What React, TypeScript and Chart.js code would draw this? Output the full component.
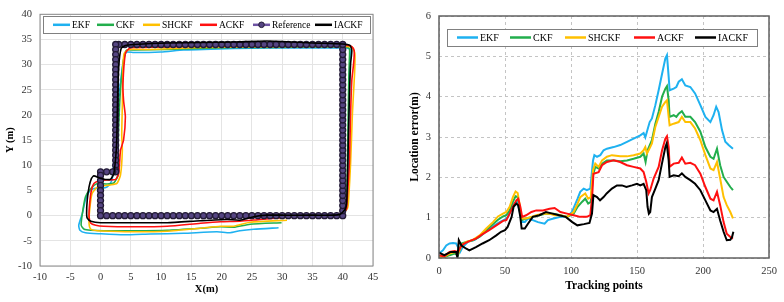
import React, { useEffect, useRef } from "react";
import { Chart, registerables } from "chart.js";
Chart.register(...registerables);

const FONT = "'Liberation Serif', 'Times New Roman', serif";

// ---------- Left panel: trajectories (X(m), Y(m)) ----------
const ekfX = [30, 35, 39.5, 40.6, 40.8, 40.9, 41, 41.1, 41.2, 41.2, 40.6, 37, 33, 28, 22, 17, 13.7, 9.9, 5.5, 4.4, 4.0, 3.6, 3.0, 2.7, 2.4, 2.2, 1.9, 1.1, 0, -1.1, -1.9, -2.5, -3.0, -3.6, -3.4, -2.5, 0, 3.8, 8.2, 13.7, 19.2, 21.4, 23, 25.3, 29.4];
const ekfY = [0.1, 0.1, 0.2, 1.2, 5, 12, 20, 27, 31, 33.0, 33.3, 33.3, 33.3, 33.3, 33.2, 33.0, 32.9, 32.5, 32.4, 32.5, 31.9, 29.5, 22.9, 16, 12, 11, 7.1, 5.7, 5.4, 5.4, 4.7, 3.1, 0.45, -1.9, -2.9, -3.4, -3.6, -3.8, -3.65, -3.5, -3.2, -3.4, -3.0, -2.7, -2.4];

const ckfX = [30, 35, 39.5, 40.5, 40.7, 40.8, 40.9, 41, 41.1, 41.1, 40.5, 35, 28, 22, 16, 11, 5.5, 4.3, 3.8, 3.3, 3.0, 2.9, 2.9, 2.2, 1.1, -0.5, -1.6, -2.5, -3.0, -3.2, -2.7, -1.6, 0.5, 5.5, 11, 16.5, 19.8, 22, 24.7, 29.9];
const ckfY = [0.1, 0.1, 0.2, 1.2, 5, 12, 20, 27, 31, 33.2, 33.5, 33.5, 33.4, 33.4, 33.2, 33.0, 32.9, 32.9, 30.9, 25, 18, 13, 8.1, 6.5, 6.3, 6.4, 5.4, 3.7, 0.45, -1.9, -2.7, -2.9, -3.0, -3.0, -2.9, -2.5, -2.2, -2.3, -1.7, -1.4];

const shckfX = [30, 35, 39.5, 40.8, 41, 41.3, 41.6, 41.9, 42.0, 42.0, 41.5, 40, 33, 25, 16.5, 8.2, 4.7, 3.9, 3.7, 3.6, 3.5, 3.6, 3.3, 2.7, 1.6, 0.3, -0.5, -1.4, -1.8, -1.9, -1.6, -0.5, 1.6, 5.5, 11, 16.5, 19.8, 22, 24.7, 30.8];
const shckfY = [0.1, 0.1, 0.2, 1.5, 3.7, 10.4, 20.3, 26.9, 29.6, 32.2, 33.5, 33.6, 33.6, 33.5, 33.4, 33.0, 33.0, 32.2, 29.5, 22, 16, 13, 8.1, 6.4, 6.1, 5.9, 5.7, 4.4, 1.1, -1.5, -2.7, -3.0, -3.1, -3.2, -3.1, -2.5, -2.1, -2.1, -1.3, -0.9];

const ackfX = [30, 35, 39.5, 40.6, 40.7, 41.1, 41.3, 41.5, 41.8, 41.9, 41.5, 40.9, 35, 27, 20, 11, 5.5, 4.7, 4.1, 3.7, 3.8, 4.1, 3.8, 3.3, 3.0, 2.5, 1.1, -0.3, -1.1, -1.5, -1.8, -1.9, -1.6, -0.8, 0.5, 5.5, 11, 16.5, 19.8, 23, 26.4, 30.2];
const ackfY = [0.1, 0.1, 0.2, 1.2, 2.4, 10.4, 20.3, 26.9, 30.2, 32.8, 33.6, 33.8, 33.8, 33.8, 33.8, 33.5, 33.4, 33.2, 32.2, 26.2, 22.9, 19.6, 15, 13, 8.4, 7.2, 7.1, 6.9, 6.4, 5.1, 2.4, -0.2, -1.5, -1.9, -2.1, -2.2, -2.1, -1.5, -1.2, -1.1, -0.75, -0.4];

const iackfX = [30, 35, 39.5, 40.5, 40.7, 40.9, 41.1, 41.3, 41.5, 41.2, 40, 35, 27.5, 22, 11, 5.5, 4.1, 3.4, 3.0, 2.8, 2.7, 2.6, 2.2, 1.6, 0, -1.1, -1.5, -1.9, -2.2, -2.3, -2.2, -1.6, 0, 5.5, 11, 16.5, 20.9, 23, 25.3, 27.5, 30.2];
const iackfY = [0.1, 0.1, 0.2, 1.5, 3.7, 13.7, 23.6, 30.2, 32.8, 33.8, 34.1, 34.3, 34.7, 34.5, 34.3, 34.0, 33.8, 33.2, 29.5, 22, 16, 13, 8.4, 7.2, 7.4, 7.9, 7.4, 5.7, 3.1, 0.45, -0.5, -1.1, -1.4, -1.4, -1.4, -1.0, -0.75, -0.9, -0.2, 0.1, 0.1];

const refX = [
  30, 31, 32, 33, 34, 35, 36, 37, 38, 39, 40,
  40, 40, 40, 40, 40, 40, 40, 40, 40, 40, 40, 40, 40, 40, 40, 40, 40,
  40, 40, 40, 40, 40, 40, 40, 40, 40, 40, 40, 40, 40, 40, 40, 40, 40,
  39, 38, 37, 36, 35, 34, 33, 32, 31, 30, 29, 28, 27, 26, 25, 24, 23, 22, 21,
  20, 19, 18, 17, 16, 15, 14, 13, 12, 11, 10, 9, 8, 7, 6, 5, 4, 3, 2.5,
  2.5, 2.5, 2.5, 2.5, 2.5, 2.5, 2.5, 2.5, 2.5, 2.5, 2.5, 2.5, 2.5,
  2.5, 2.5, 2.5, 2.5, 2.5, 2.5, 2.5, 2.5, 2.5, 2.5, 2.5, 2.5, 2.5,
  2, 1, 0,
  0, 0, 0, 0, 0, 0, 0, 0, 0,
  1, 2, 3, 4, 5, 6, 7, 8, 9, 10, 11, 12, 13, 14, 15, 16, 17, 18, 19, 20,
  21, 22, 23, 24, 25, 26, 27, 28, 29,
];
const refY = [
  0, 0, 0, 0, 0, 0, 0, 0, 0, 0, 0,
  1, 2, 3, 4, 5, 6, 7, 8, 9, 10, 11, 12, 13, 14, 15, 16, 17,
  18, 19, 20, 21, 22, 23, 24, 25, 26, 27, 28, 29, 30, 31, 32, 33, 34,
  34, 34, 34, 34, 34, 34, 34, 34, 34, 34, 34, 34, 34, 34, 34, 34, 34, 34, 34,
  34, 34, 34, 34, 34, 34, 34, 34, 34, 34, 34, 34, 34, 34, 34, 34, 34, 34, 34,
  33, 32, 31, 30, 29, 28, 27, 26, 25, 24, 23, 22, 21,
  20, 19, 18, 17, 16, 15, 14, 13, 12, 11, 10, 9, 8.7,
  8.7, 8.7, 8.7,
  8, 7, 6, 5, 4, 3, 2, 1, 0,
  0, 0, 0, 0, 0, 0, 0, 0, 0, 0, 0, 0, 0, 0, 0, 0, 0, 0, 0, 0,
  0, 0, 0, 0, 0, 0, 0, 0, 0,
];

// ---------- Right panel: location error vs tracking points ----------
const ekfT = [0, 3, 5.5, 8, 10.6, 13, 15, 16, 18, 22, 27, 32, 37, 42, 46, 49.7, 52.3, 54.8, 57.3, 59, 61, 62.6, 65, 67.4, 71, 75, 80, 82.5, 86.8, 92, 97, 100.7, 105, 107, 109.6, 112, 114.6, 116.7, 117.7, 119.7, 122.2, 124.7, 127.2, 132.3, 137.3, 142.4, 147.4, 152.5, 155, 156.3, 157.5, 159.6, 161.3, 163.9, 166.4, 169, 171.5, 172.7, 174, 174.7, 177.8, 179.8, 181.6, 184, 186.6, 190.4, 194, 198, 201.8, 205.6, 208, 210, 211.8, 214.4, 216.9, 219.4, 222.7];
const ekfErr = [0.11, 0.19, 0.31, 0.36, 0.37, 0.36, 0.23, 0.15, 0.27, 0.4, 0.45, 0.56, 0.69, 0.81, 0.89, 0.95, 1.02, 1.22, 1.36, 1.39, 1.18, 0.89, 0.89, 0.98, 0.94, 0.89, 0.85, 0.94, 0.98, 1.02, 1.02, 1.14, 1.47, 1.64, 1.72, 1.68, 1.72, 2.42, 2.55, 2.51, 2.55, 2.67, 2.71, 2.75, 2.8, 2.88, 2.96, 3.04, 3.1, 2.99, 3.13, 3.37, 3.46, 3.79, 4.16, 4.57, 4.95, 5.03, 4.49, 4.16, 4.2, 4.24, 4.37, 4.43, 4.28, 4.24, 4.08, 3.79, 3.5, 3.37, 3.54, 3.75, 3.62, 3.17, 2.88, 2.8, 2.71];

const ckfT = [0, 4, 8, 11.8, 14.4, 17, 20.7, 25.7, 30.8, 35.8, 40.9, 44.7, 48.5, 51, 53.5, 56, 58, 59.6, 61, 62.6, 66, 71, 76, 81, 86.8, 92, 97, 102, 105, 108.3, 110.8, 113, 115, 116.7, 118.4, 120.9, 123.5, 127.2, 132.3, 137.3, 142.4, 147.4, 152.5, 155, 156.5, 158, 161.3, 163.9, 166.4, 169, 171.5, 172.7, 174, 174.7, 177.8, 179.8, 181.6, 184, 186.6, 190.4, 194, 198, 201.8, 205.6, 208, 210.6, 213, 215.6, 218, 220.7, 222.7];
const ckfErr = [0.03, 0.02, 0.07, 0.11, 0.07, 0.36, 0.4, 0.44, 0.53, 0.69, 0.84, 0.95, 1.03, 1.06, 1.18, 1.39, 1.53, 1.51, 1.27, 0.94, 0.98, 1.02, 1.06, 1.1, 1.1, 1.06, 1.02, 1.1, 1.27, 1.39, 1.47, 1.35, 1.39, 2.05, 2.26, 2.22, 2.34, 2.42, 2.42, 2.4, 2.42, 2.46, 2.51, 2.59, 2.38, 2.67, 2.92, 3.33, 3.62, 4.0, 4.2, 4.26, 3.91, 3.5, 3.54, 3.5, 3.58, 3.64, 3.5, 3.5, 3.37, 3.13, 2.75, 2.51, 2.46, 2.71, 2.3, 2.01, 1.89, 1.76, 1.68];

const shckfT = [0, 4, 8, 11.8, 14.4, 17, 20.7, 25.7, 30.8, 35.8, 40.9, 44.7, 48.5, 51, 53.5, 56, 58, 59.6, 61, 62.6, 66, 70, 73.7, 78.8, 83.8, 87.6, 92, 97, 102, 105, 107, 110.8, 113, 115, 116.7, 118.4, 120.9, 123.5, 127.2, 131, 137.3, 142.4, 147.4, 152.5, 155, 156.3, 157.5, 158.8, 161.3, 163.9, 166.4, 169, 171.5, 172.7, 174, 174.7, 177.8, 181.6, 184, 186.6, 190.4, 194, 198, 201.8, 205.6, 208, 210.6, 213, 215.6, 218, 220.7, 222.7];
const shckfErr = [0.03, 0.03, 0.11, 0.15, 0.11, 0.31, 0.4, 0.45, 0.56, 0.73, 0.89, 1.03, 1.1, 1.14, 1.27, 1.51, 1.65, 1.61, 1.35, 0.98, 0.98, 1.02, 1.06, 1.1, 1.1, 1.06, 1.06, 1.02, 1.14, 1.35, 1.51, 1.6, 1.47, 1.51, 2.18, 2.34, 2.26, 2.42, 2.51, 2.55, 2.52, 2.52, 2.55, 2.59, 2.67, 2.75, 2.59, 2.67, 2.84, 3.25, 3.5, 3.75, 3.87, 3.91, 3.5, 3.29, 3.33, 3.37, 3.5, 3.37, 3.37, 3.21, 2.92, 2.55, 2.22, 2.18, 2.38, 1.97, 1.51, 1.31, 1.14, 0.98];

const ackfT = [0, 4, 8, 11.8, 14.4, 17, 19.4, 23, 28, 33, 38, 43.4, 48.5, 51, 53.5, 56, 58.6, 60, 61.6, 63, 66, 70, 73.7, 78.8, 83.8, 87.6, 92, 97, 102, 107, 112, 114.6, 116, 117, 120.9, 123.5, 127.2, 132.3, 137.3, 142.4, 147.4, 152.5, 155, 157, 158.8, 160, 162.6, 166.4, 169, 171.5, 172.7, 174, 174.7, 177.8, 181.6, 184, 186.6, 190.4, 194, 198, 201.8, 205.6, 208, 210.6, 213, 215.6, 218, 220.7, 222.7];
const ackfErr = [0.07, 0.04, 0.15, 0.17, 0.15, 0.31, 0.36, 0.42, 0.48, 0.59, 0.69, 0.81, 0.92, 0.94, 1.1, 1.27, 1.43, 1.47, 1.27, 1.02, 1.06, 1.14, 1.18, 1.18, 1.22, 1.24, 1.14, 1.1, 1.06, 1.02, 1.02, 1.06, 1.51, 2.09, 2.13, 2.3, 2.38, 2.42, 2.38, 2.3, 2.26, 2.22, 2.13, 1.89, 1.6, 1.68, 1.97, 2.26, 2.67, 2.96, 3.02, 2.75, 2.26, 2.34, 2.36, 2.49, 2.34, 2.36, 2.3, 2.09, 1.76, 1.47, 1.43, 1.64, 1.31, 0.89, 0.6, 0.52, 0.48];

const iackfT = [0, 4, 9, 13, 14, 15, 17, 20.7, 23, 28, 33, 38, 43.4, 47, 50, 52, 55, 56.5, 58.6, 60, 61.6, 62.6, 65, 67.4, 71, 76, 81, 86, 91, 96, 101, 104.8, 109.8, 114, 115.9, 117, 119.7, 122, 124.7, 127, 131, 134.8, 138.6, 142, 146.2, 150, 152.5, 155, 157, 158, 159, 160, 161.3, 163.9, 166.4, 168.9, 171.5, 172.5, 174, 174.7, 177.8, 181.6, 184, 186.6, 190.4, 194, 198, 201.8, 205.6, 208, 210.6, 213, 215.6, 218, 220.7, 222, 223];
const iackfErr = [0.13, 0.07, 0.15, 0.15, 0.0, 0.44, 0.31, 0.23, 0.19, 0.27, 0.36, 0.44, 0.56, 0.65, 0.69, 0.77, 1.02, 1.27, 1.35, 1.31, 1.02, 0.73, 0.73, 0.85, 1.02, 1.06, 1.14, 1.1, 1.06, 1.02, 0.89, 0.81, 0.84, 0.87, 1.1, 1.56, 1.51, 1.43, 1.51, 1.6, 1.72, 1.8, 1.8, 1.76, 1.8, 1.84, 1.8, 1.84, 1.68, 1.27, 1.1, 1.14, 1.51, 1.72, 1.93, 2.34, 2.75, 2.84, 2.42, 2.01, 2.05, 2.03, 2.1, 2.01, 1.93, 1.84, 1.68, 1.43, 1.18, 1.14, 1.22, 0.93, 0.65, 0.44, 0.45, 0.52, 0.65];

const COLORS = {
  EKF: "#1EB1F0",
  CKF: "#22AE4C",
  SHCKF: "#FFC000",
  ACKF: "#FF1010",
  IACKF: "#000000",
  REF: "#6E53A3",
  REF_DOT: "#554582",
  REF_EDGE: "#231B36",
};

const pts = (xs: number[], ys: number[]) => xs.map((x, i) => ({ x, y: ys[i] }));

type LegendItem = { label: string; color: string; dx: number; marker?: boolean };

const framePlugin = (opts: {
  border: string;
  borderWidth: number;
  legend: { insetL: number; insetR: number; top: number; h: number; items: LegendItem[]; lineLen: number; font: string };
}) => ({
  id: "frameLegend",
  afterDraw(chart: any) {
    const { ctx, chartArea } = chart;
    const { left, right, top, bottom } = chartArea;
    ctx.save();
    ctx.strokeStyle = opts.border;
    ctx.lineWidth = opts.borderWidth;
    ctx.strokeRect(left, top, right - left, bottom - top);

    const lg = opts.legend;
    const bx = left + lg.insetL;
    const bw = right - lg.insetR - bx;
    const by = top + lg.top;
    ctx.fillStyle = "#ffffff";
    ctx.fillRect(bx, by, bw, lg.h);
    ctx.strokeStyle = "#808080";
    ctx.lineWidth = 1;
    ctx.strokeRect(Math.round(bx) + 0.5, Math.round(by) + 0.5, Math.round(bw), Math.round(lg.h));
    const cy = by + lg.h / 2;
    ctx.font = lg.font;
    ctx.textBaseline = "middle";
    ctx.textAlign = "left";
    for (const it of lg.items) {
      const x0 = bx + it.dx;
      ctx.strokeStyle = it.color;
      ctx.lineWidth = 2.5;
      ctx.beginPath();
      ctx.moveTo(x0, cy);
      ctx.lineTo(x0 + lg.lineLen, cy);
      ctx.stroke();
      if (it.marker) {
        ctx.beginPath();
        ctx.arc(x0 + lg.lineLen / 2, cy, 2.8, 0, Math.PI * 2);
        ctx.fillStyle = COLORS.REF_DOT;
        ctx.fill();
        ctx.lineWidth = 1;
        ctx.strokeStyle = COLORS.REF_EDGE;
        ctx.stroke();
      }
      ctx.fillStyle = "#000";
      ctx.fillText(it.label, x0 + lg.lineLen + 2, cy + 0.5);
    }
    ctx.restore();
  },
});

function lineDs(label: string, data: any[], color: string, order: number, width: number, tension: number) {
  return {
    label,
    data,
    showLine: true,
    borderColor: color,
    backgroundColor: color,
    borderWidth: width,
    pointRadius: 0,
    pointHoverRadius: 0,
    tension,
    order,
  };
}

function leftConfig(): any {
  return {
    type: "scatter",
    data: {
      datasets: [
        lineDs("EKF", pts(ekfX, ekfY), COLORS.EKF, 5, 1.6, 0.2),
        lineDs("CKF", pts(ckfX, ckfY), COLORS.CKF, 4, 1.6, 0.2),
        lineDs("SHCKF", pts(shckfX, shckfY), COLORS.SHCKF, 3, 1.6, 0.2),
        lineDs("ACKF", pts(ackfX, ackfY), COLORS.ACKF, 2, 1.6, 0.2),
        {
          label: "Reference",
          data: pts(refX, refY),
          showLine: true,
          borderColor: COLORS.REF,
          borderWidth: 2,
          pointRadius: 3,
          pointHoverRadius: 3,
          pointBackgroundColor: COLORS.REF_DOT,
          pointBorderColor: COLORS.REF_EDGE,
          pointBorderWidth: 1.3,
          tension: 0,
          order: 1,
        },
        lineDs("IACKF", pts(iackfX, iackfY), COLORS.IACKF, 0, 1.6, 0.2),
      ],
    },
    options: {
      responsive: false,
      animation: false,
      devicePixelRatio: 1,
      layout: { padding: { left: 0, top: 14, right: 19, bottom: 0 } },
      plugins: { legend: { display: false }, tooltip: { enabled: false } },
      scales: {
        x: {
          type: "linear",
          min: -10,
          max: 45,
          afterFit: (s: any) => { s.height = 36; },
          ticks: { stepSize: 5, color: "#333", font: { family: FONT, size: 10.5 }, padding: 5 },
          grid: { color: "#e4e4e4", drawTicks: false },
          border: { display: false },
          title: { display: true, text: "X(m)", color: "#000", font: { family: FONT, size: 10.5, weight: "bold" }, padding: { top: 0, bottom: 6 } },
        },
        y: {
          type: "linear",
          min: -10,
          max: 40,
          afterFit: (s: any) => { s.width = 40; },
          ticks: { stepSize: 5, color: "#333", font: { family: FONT, size: 10.5 }, padding: 8 },
          grid: { color: "#e4e4e4", drawTicks: false },
          border: { display: false },
          title: { display: true, text: "Y (m)", color: "#000", font: { family: FONT, size: 10.5, weight: "bold" }, padding: { top: 4, bottom: 0 } },
        },
      },
    },
    plugins: [
      framePlugin({
        border: "#8a8a8a",
        borderWidth: 1,
        legend: {
          insetL: 3,
          insetR: 3,
          top: 2,
          h: 17,
          lineLen: 17,
          font: `9.5px ${FONT}`,
          items: [
            { label: "EKF", color: COLORS.EKF, dx: 10 },
            { label: "CKF", color: COLORS.CKF, dx: 54 },
            { label: "SHCKF", color: COLORS.SHCKF, dx: 100 },
            { label: "ACKF", color: COLORS.ACKF, dx: 157 },
            { label: "Reference", color: COLORS.REF, dx: 210, marker: true },
            { label: "IACKF", color: COLORS.IACKF, dx: 272 },
          ],
        },
      }),
    ],
  };
}

function rightConfig(): any {
  const dash = [3, 3];
  return {
    type: "scatter",
    data: {
      datasets: [
        lineDs("EKF", pts(ekfT, ekfErr), COLORS.EKF, 4, 2, 0),
        lineDs("CKF", pts(ckfT, ckfErr), COLORS.CKF, 3, 2, 0),
        lineDs("SHCKF", pts(shckfT, shckfErr), COLORS.SHCKF, 2, 2, 0),
        lineDs("ACKF", pts(ackfT, ackfErr), COLORS.ACKF, 1, 2, 0),
        lineDs("IACKF", pts(iackfT, iackfErr), COLORS.IACKF, 0, 2, 0),
      ],
    },
    options: {
      responsive: false,
      animation: false,
      devicePixelRatio: 1,
      layout: { padding: { left: 0, top: 16, right: 15, bottom: 0 } },
      plugins: { legend: { display: false }, tooltip: { enabled: false } },
      scales: {
        x: {
          type: "linear",
          min: 0,
          max: 250,
          afterFit: (s: any) => { s.height = 44; },
          ticks: { stepSize: 50, color: "#333", font: { family: FONT, size: 10.5 }, padding: 7 },
          grid: { color: "#c4c4c4", drawTicks: false, borderDash: dash, tickBorderDash: dash },
          border: { display: false, dash },
          title: { display: true, text: "Tracking points", color: "#000", font: { family: FONT, size: 11.5, weight: "bold" }, padding: { top: 0, bottom: 9 } },
        },
        y: {
          type: "linear",
          min: 0,
          max: 6,
          afterFit: (s: any) => { s.width = 47; },
          ticks: { stepSize: 1, color: "#333", font: { family: FONT, size: 10.5 }, padding: 8 },
          grid: { color: "#c4c4c4", drawTicks: false, borderDash: dash, tickBorderDash: dash },
          border: { display: false, dash },
          title: { display: true, text: "Location error(m)", color: "#000", font: { family: FONT, size: 11.5, weight: "bold" }, padding: { top: 16, bottom: 0 } },
        },
      },
    },
    plugins: [
      framePlugin({
        border: "#606060",
        borderWidth: 1.5,
        legend: {
          insetL: 8,
          insetR: 12,
          top: 13,
          h: 17,
          lineLen: 21,
          font: `10px ${FONT}`,
          items: [
            { label: "EKF", color: COLORS.EKF, dx: 10 },
            { label: "CKF", color: COLORS.CKF, dx: 63 },
            { label: "SHCKF", color: COLORS.SHCKF, dx: 118 },
            { label: "ACKF", color: COLORS.ACKF, dx: 187 },
            { label: "IACKF", color: COLORS.IACKF, dx: 248 },
          ],
        },
      }),
    ],
  };
}

export default function App() {
  const leftRef = useRef<HTMLCanvasElement>(null);
  const rightRef = useRef<HTMLCanvasElement>(null);
  useEffect(() => {
    const c1 = new Chart(leftRef.current as HTMLCanvasElement, leftConfig());
    const c2 = new Chart(rightRef.current as HTMLCanvasElement, rightConfig());
    return () => {
      c1.destroy();
      c2.destroy();
    };
  }, []);
  return (
    <div style={{ position: "fixed", left: 0, top: 0, width: 784, height: 302, background: "#fff", display: "flex" }}>
      <canvas ref={leftRef} width={392} height={302} style={{ width: 392, height: 302, display: "block" }} />
      <canvas ref={rightRef} width={392} height={302} style={{ width: 392, height: 302, display: "block" }} />
    </div>
  );
}
